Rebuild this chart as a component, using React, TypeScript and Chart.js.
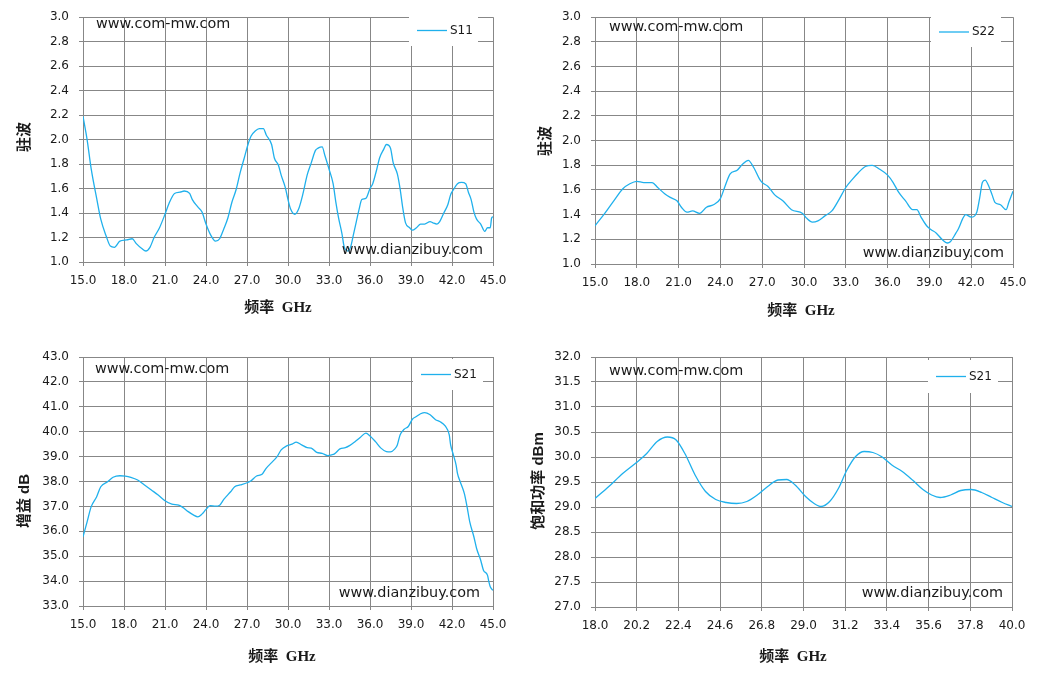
import { useEffect, useRef } from "react";
import { Chart, registerables } from "chart.js";

Chart.register(...registerables);

// ---------------- data ----------------
const s11Freq = [15.0, 15.3, 15.6, 16.0, 16.3, 16.7, 17.0, 17.3, 17.7, 18.2, 18.6, 18.9, 19.3, 19.6, 19.9, 20.2, 20.6, 21.0, 21.3, 21.7, 22.1, 22.4, 22.8, 23.0, 23.4, 23.7, 24.0, 24.3, 24.7, 25.0, 25.3, 25.6, 25.9, 26.2, 26.5, 26.8, 27.1, 27.3, 27.6, 27.9, 28.2, 28.4, 28.8, 29.0, 29.3, 29.5, 29.8, 30.0, 30.2, 30.5, 30.8, 31.1, 31.4, 31.7, 32.0, 32.2, 32.5, 32.7, 33.0, 33.3, 33.5, 33.7, 33.95, 34.1, 34.4, 34.6, 34.8, 35.0, 35.2, 35.4, 35.7, 36.0, 36.2, 36.5, 36.7, 37.0, 37.2, 37.5, 37.7, 38.0, 38.2, 38.4, 38.6, 38.9, 39.1, 39.4, 39.7, 40.0, 40.4, 40.6, 40.9, 41.1, 41.4, 41.7, 41.9, 42.1, 42.4, 42.7, 43.0, 43.2, 43.4, 43.6, 43.8, 44.1, 44.4, 44.6, 44.8, 44.9, 45.0];
const s11Vswr = [2.19, 2.0, 1.76, 1.52, 1.35, 1.21, 1.13, 1.12, 1.17, 1.18, 1.19, 1.15, 1.11, 1.09, 1.12, 1.2, 1.28, 1.39, 1.48, 1.56, 1.57, 1.58, 1.56, 1.51, 1.45, 1.41, 1.31, 1.23, 1.17, 1.19, 1.27, 1.36, 1.49, 1.59, 1.73, 1.85, 1.97, 2.03, 2.07, 2.09, 2.09, 2.04, 1.96, 1.85, 1.79, 1.71, 1.61, 1.51, 1.43, 1.39, 1.44, 1.56, 1.71, 1.81, 1.91, 1.93, 1.94, 1.87, 1.76, 1.64, 1.49, 1.36, 1.23, 1.13, 1.09, 1.13, 1.23, 1.33, 1.43, 1.51, 1.52, 1.6, 1.64, 1.76, 1.85, 1.92, 1.96, 1.93, 1.81, 1.72, 1.6, 1.44, 1.32, 1.28, 1.26, 1.28, 1.31, 1.31, 1.33, 1.32, 1.31, 1.33, 1.4, 1.47, 1.55, 1.59, 1.64, 1.65, 1.64, 1.57, 1.51, 1.41, 1.35, 1.31, 1.25, 1.28, 1.28, 1.36, 1.37];

const s22Freq = [15.0, 15.7, 16.4, 17.0, 17.5, 18.0, 18.5, 19.1, 19.5, 20.0, 20.4, 20.9, 21.2, 21.6, 22.0, 22.5, 23.0, 23.5, 24.0, 24.3, 24.7, 25.2, 25.6, 26.0, 26.4, 26.8, 27.0, 27.4, 27.9, 28.5, 29.1, 29.9, 30.2, 30.6, 31.0, 31.5, 32.0, 32.5, 33.0, 33.5, 33.9, 34.4, 34.9, 35.4, 36.0, 36.4, 36.8, 37.3, 37.8, 38.1, 38.4, 38.8, 39.1, 39.5, 39.9, 40.3, 40.5, 40.9, 41.1, 41.4, 41.6, 42.0, 42.4, 42.6, 42.8, 43.0, 43.3, 43.5, 43.7, 44.1, 44.5, 44.7, 45.0];
const s22Vswr = [1.31, 1.41, 1.52, 1.61, 1.65, 1.67, 1.66, 1.66, 1.62, 1.57, 1.54, 1.51, 1.46, 1.42, 1.43, 1.41, 1.46, 1.48, 1.53, 1.62, 1.73, 1.76, 1.81, 1.84, 1.78, 1.69, 1.66, 1.63, 1.56, 1.51, 1.44, 1.41, 1.37, 1.34, 1.35, 1.39, 1.43, 1.52, 1.62, 1.69, 1.74, 1.79, 1.8, 1.77, 1.72, 1.66, 1.58, 1.51, 1.44, 1.44, 1.38, 1.31, 1.28, 1.25, 1.2, 1.17, 1.18, 1.25, 1.29, 1.37, 1.4, 1.38, 1.42, 1.53, 1.66, 1.68, 1.62, 1.56, 1.5, 1.48, 1.44, 1.5, 1.59];

const gainFreq = [15.0, 15.3, 15.6, 16.0, 16.3, 16.8, 17.2, 17.7, 18.1, 18.5, 19.0, 19.5, 20.0, 20.5, 21.0, 21.5, 22.0, 22.3, 22.7, 23.1, 23.4, 23.7, 24.0, 24.3, 24.7, 25.0, 25.3, 25.8, 26.1, 26.5, 27.0, 27.3, 27.7, 28.1, 28.4, 28.8, 29.2, 29.5, 29.9, 30.3, 30.6, 31.0, 31.4, 31.7, 32.1, 32.5, 32.9, 33.2, 33.4, 33.8, 34.2, 34.5, 34.9, 35.3, 35.7, 36.0, 36.4, 36.8, 37.2, 37.5, 37.8, 38.0, 38.2, 38.5, 38.8, 39.1, 39.4, 39.7, 40.0, 40.4, 40.8, 41.1, 41.5, 41.8, 41.9, 42.1, 42.3, 42.4, 42.6, 42.9, 43.1, 43.3, 43.6, 43.8, 44.1, 44.3, 44.6, 44.7, 44.8, 45.0];
const gainDb = [35.78, 36.38, 36.99, 37.39, 37.79, 37.99, 38.17, 38.23, 38.22, 38.17, 38.06, 37.86, 37.66, 37.46, 37.23, 37.09, 37.05, 36.96, 36.79, 36.65, 36.58, 36.69, 36.88, 37.03, 37.01, 37.05, 37.28, 37.59, 37.79, 37.86, 37.95, 38.03, 38.22, 38.29, 38.53, 38.76, 39.0, 39.27, 39.43, 39.5, 39.58, 39.47, 39.36, 39.34, 39.17, 39.13, 39.04, 39.07, 39.11, 39.31, 39.36, 39.44, 39.6, 39.78, 39.94, 39.83, 39.6, 39.34, 39.2, 39.19, 39.3, 39.47, 39.87, 40.1, 40.21, 40.5, 40.61, 40.72, 40.77, 40.68, 40.48, 40.41, 40.23, 39.87, 39.47, 39.07, 38.66, 38.33, 37.99, 37.52, 36.99, 36.38, 35.78, 35.31, 34.84, 34.44, 34.23, 33.97, 33.77, 33.63];

const psatFreq = [18.0, 18.73, 19.46, 20.19, 20.73, 21.28, 21.82, 22.28, 22.74, 23.28, 23.83, 24.37, 24.92, 25.47, 26.01, 26.56, 27.11, 27.65, 28.11, 28.56, 29.11, 29.56, 29.93, 30.38, 30.84, 31.29, 31.75, 32.2, 32.66, 33.11, 33.66, 34.21, 34.75, 35.3, 35.76, 36.21, 36.76, 37.3, 37.85, 38.4, 38.94, 39.49, 40.0];
const psatDbm = [29.17, 29.41, 29.67, 29.89, 30.07, 30.31, 30.4, 30.34, 30.07, 29.64, 29.31, 29.15, 29.09, 29.07, 29.11, 29.24, 29.41, 29.54, 29.55, 29.44, 29.21, 29.07, 29.01, 29.11, 29.37, 29.74, 30.01, 30.11, 30.09, 30.01, 29.84, 29.71, 29.54, 29.35, 29.24, 29.19, 29.24, 29.33, 29.35, 29.29, 29.19, 29.09, 29.01];

// ---------------- styles ----------------
const LINE = "#1fb0ec";
const GRID = "#878787";
const TEXT = "#1a1a1a";
const SANS = "'DejaVu Sans', sans-serif";
const X_TITLE_FONT = "bold 15px 'Liberation Serif', 'Noto Sans CJK SC', serif";
const Y_TITLE_FONT = "bold 15px 'Liberation Sans', 'Noto Sans CJK SC', sans-serif";

const decorPlugin = {
  id: "decor",
  afterDraw(chart: any, _args: any, opts: any) {
    const ctx = chart.ctx;
    ctx.save();
    ctx.textBaseline = "middle";
    // legend inside plot
    const lg = opts.legend;
    if (lg) {
      ctx.fillStyle = "#ffffff";
      ctx.fillRect(lg.x, lg.y, lg.w, lg.h);
      const cy = lg.y + lg.h / 2;
      ctx.strokeStyle = LINE;
      ctx.lineWidth = 1.3;
      ctx.beginPath();
      ctx.moveTo(lg.x + 8, cy);
      ctx.lineTo(lg.x + 38, cy);
      ctx.stroke();
      ctx.fillStyle = TEXT;
      ctx.font = `12px ${SANS}`;
      ctx.textAlign = "left";
      ctx.fillText(chart.data.datasets[0].label, lg.x + 41, cy);
    }
    // watermarks
    ctx.fillStyle = TEXT;
    ctx.font = `14.4px ${SANS}`;
    for (const m of opts.marks || []) {
      ctx.textAlign = m.align;
      ctx.fillText(m.text, m.x, m.y);
    }
    // axis titles
    if (opts.xTitle) {
      ctx.font = X_TITLE_FONT;
      ctx.textAlign = "center";
      ctx.fillText(opts.xTitle.text, opts.xTitle.x, opts.xTitle.y);
    }
    if (opts.yTitle) {
      ctx.font = Y_TITLE_FONT;
      ctx.textAlign = "center";
      ctx.translate(opts.yTitle.x, opts.yTitle.y);
      ctx.rotate(-Math.PI / 2);
      ctx.fillText(opts.yTitle.text, 0, 0);
    }
    ctx.restore();
  },
};

type Panel = {
  left: number; top: number; w: number; h: number;
  area: { l: number; t: number; r: number; b: number };
  xr: [number, number, number];
  yr: [number, number, number];
  label: string;
  xs: number[]; ys: number[];
  smooth: boolean;
  xTitle: any; yTitle: any; marks: any[]; legend: any;
};

const panels: Panel[] = [
  {
    left: 0, top: 0, w: 529, h: 339,
    area: { l: 83, t: 12, r: 493, b: 262 },
    xr: [15, 45, 3], yr: [1, 3, 0.2],
    label: "S11", xs: s11Freq, ys: s11Vswr, smooth: false,
    xTitle: { text: "频率  GHz", x: 278, y: 308 },
    yTitle: { text: "驻波", x: 25, y: 137 },
    marks: [
      { text: "www.com-mw.com", x: 96, y: 24, align: "left" },
      { text: "www.dianzibuy.com", x: 483, y: 250, align: "right" },
    ],
    legend: { x: 409, y: 15, w: 69, h: 31 },
  },
  {
    left: 529, top: 0, w: 529, h: 339,
    area: { l: 66, t: 15, r: 484, b: 264 },
    xr: [15, 45, 3], yr: [1, 3, 0.2],
    label: "S22", xs: s22Freq, ys: s22Vswr, smooth: true,
    xTitle: { text: "频率  GHz", x: 272, y: 311 },
    yTitle: { text: "驻波", x: 17, y: 141 },
    marks: [
      { text: "www.com-mw.com", x: 80, y: 27, align: "left" },
      { text: "www.dianzibuy.com", x: 475, y: 253, align: "right" },
    ],
    legend: { x: 402, y: 17, w: 70, h: 30 },
  },
  {
    left: 0, top: 339, w: 529, h: 340,
    area: { l: 83, t: 18, r: 493, b: 267 },
    xr: [15, 45, 3], yr: [33, 43, 1],
    label: "S21", xs: gainFreq, ys: gainDb, smooth: false,
    xTitle: { text: "频率  GHz", x: 282, y: 318 },
    yTitle: { text: "增益 dB", x: 25, y: 162 },
    marks: [
      { text: "www.com-mw.com", x: 95, y: 30, align: "left" },
      { text: "www.dianzibuy.com", x: 480, y: 254, align: "right" },
    ],
    legend: { x: 413, y: 20, w: 70, h: 31 },
  },
  {
    left: 529, top: 339, w: 529, h: 340,
    area: { l: 66, t: 18, r: 483, b: 268 },
    xr: [18, 40, 2.2], yr: [27, 32, 0.5],
    label: "S21", xs: psatFreq, ys: psatDbm, smooth: true,
    xTitle: { text: "频率  GHz", x: 264, y: 318 },
    yTitle: { text: "饱和功率 dBm", x: 10, y: 142 },
    marks: [
      { text: "www.com-mw.com", x: 80, y: 32, align: "left" },
      { text: "www.dianzibuy.com", x: 474, y: 254, align: "right" },
    ],
    legend: { x: 399, y: 21, w: 70, h: 33 },
  },
];

function buildConfig(p: Panel): any {
  const data = p.xs.map((x, i) => ({ x, y: p.ys[i] }));
  const tickFont = { family: SANS, size: 12 };
  return {
    type: "line",
    data: {
      datasets: [
        {
          label: p.label,
          data,
          borderColor: LINE,
          backgroundColor: LINE,
          borderWidth: 1.3,
          pointRadius: 0,
          fill: false,
          cubicInterpolationMode: "monotone",
          tension: p.smooth ? 0.4 : 0.2,
        },
      ],
    },
    options: {
      responsive: false,
      animation: false,
      events: [],
      layout: { padding: { left: 0, top: p.area.t, right: p.w - p.area.r, bottom: 0 } },
      plugins: {
        legend: { display: false },
        tooltip: { enabled: false },
        title: { display: false },
        decor: { xTitle: p.xTitle, yTitle: p.yTitle, marks: p.marks, legend: p.legend },
      },
      scales: {
        x: {
          type: "linear",
          min: p.xr[0],
          max: p.xr[1],
          ticks: {
            stepSize: p.xr[2],
            maxTicksLimit: 40,
            autoSkip: false,
            maxRotation: 0,
            minRotation: 0,
            padding: 8,
            color: TEXT,
            font: tickFont,
            callback: (v: any) => Number(v).toFixed(1),
          },
          grid: { color: GRID, lineWidth: 1, tickLength: 4, drawTicks: true },
          border: { color: GRID, width: 1 },
          afterFit: (s: any) => {
            s.height = p.h - p.area.b;
          },
        },
        y: {
          type: "linear",
          min: p.yr[0],
          max: p.yr[1],
          ticks: {
            stepSize: p.yr[2],
            maxTicksLimit: 40,
            autoSkip: false,
            padding: 10,
            color: TEXT,
            font: tickFont,
            callback: (v: any) => Number(v).toFixed(1),
          },
          grid: { color: GRID, lineWidth: 1, tickLength: 4, drawTicks: true },
          border: { color: GRID, width: 1 },
          afterFit: (s: any) => {
            s.width = p.area.l;
          },
        },
      },
    },
    plugins: [decorPlugin],
  };
}

function PanelChart({ p }: { p: Panel }) {
  const ref = useRef<HTMLCanvasElement | null>(null);
  useEffect(() => {
    if (!ref.current) return;
    const chart = new Chart(ref.current, buildConfig(p));
    return () => chart.destroy();
  }, [p]);
  return (
    <div style={{ position: "absolute", left: p.left, top: p.top, width: p.w, height: p.h }}>
      <canvas ref={ref} width={p.w} height={p.h} style={{ display: "block", width: p.w, height: p.h }} />
    </div>
  );
}

export default function App() {
  return (
    <div style={{ position: "absolute", left: 0, top: 0, width: 1058, height: 679, background: "#ffffff", overflow: "hidden" }}>
      {panels.map((p, i) => (
        <PanelChart key={i} p={p} />
      ))}
    </div>
  );
}
